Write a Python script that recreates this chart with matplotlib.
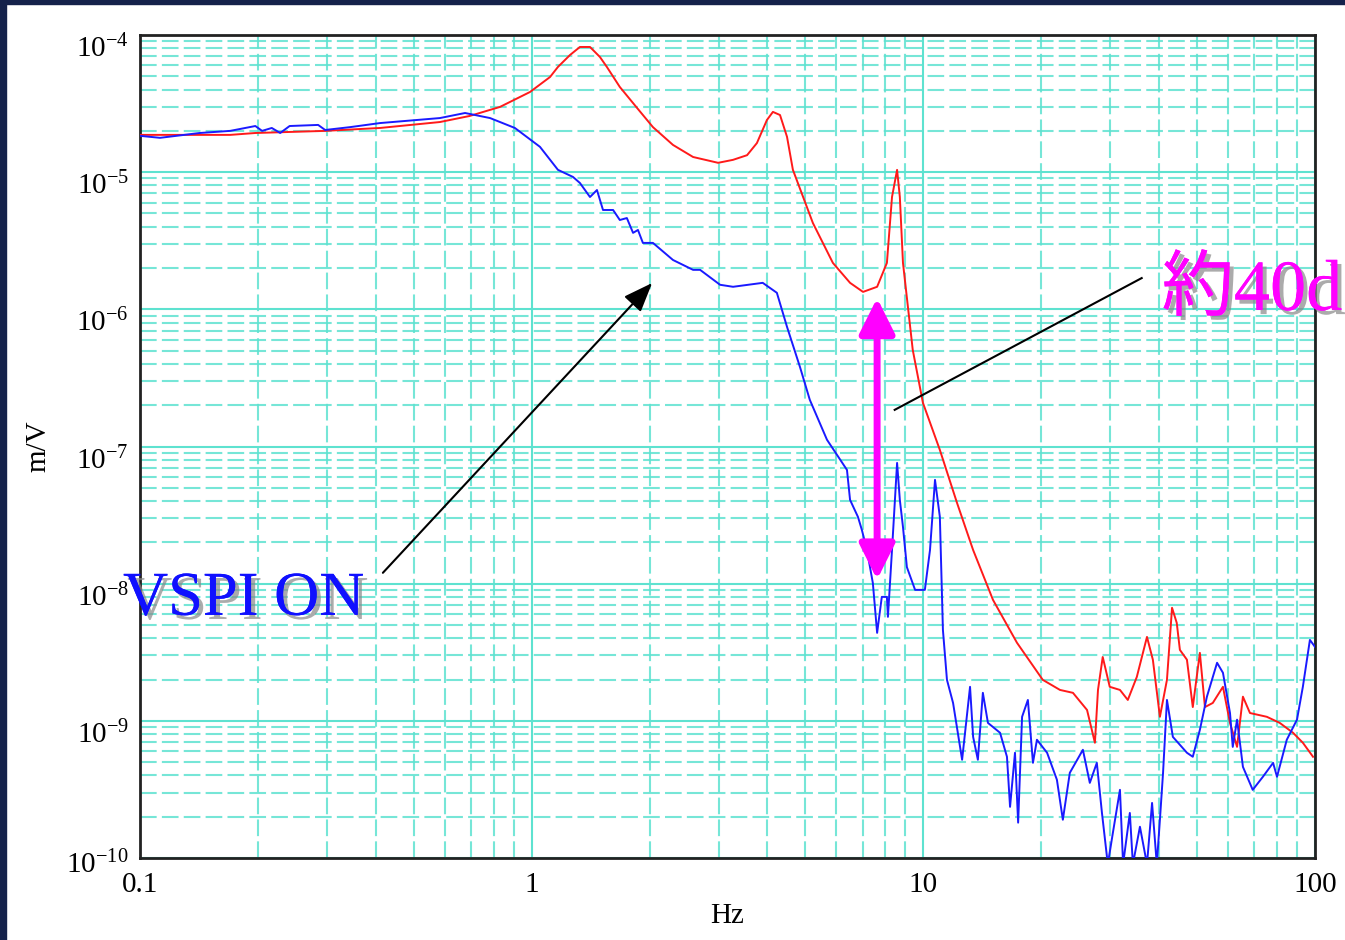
"""Transfer function plot (m/V vs Hz), VSPI on/off comparison."""

import matplotlib
matplotlib.use("Agg")
import matplotlib.pyplot as plt
import matplotlib.patheffects as pe
from matplotlib.patches import Rectangle, FancyArrowPatch
from matplotlib.ticker import FixedLocator, NullFormatter
from matplotlib.transforms import ScaledTranslation

plt.rcParams["font.family"] = ["Liberation Serif", "Noto Sans CJK JP", "DejaVu Sans"]
plt.rcParams["mathtext.fontset"] = "custom"
plt.rcParams["mathtext.rm"] = "Liberation Serif"

# VSPI OFF (red)
red_freq = [0.100, 0.170, 0.197, 0.297, 0.410, 0.583, 0.695, 0.830, 0.990, 1.114,
            1.167, 1.253, 1.328, 1.409, 1.494, 1.556, 1.679, 1.858, 2.040, 2.295,
            2.583, 2.992, 3.267, 3.548, 3.759, 3.987, 4.130, 4.306, 4.487, 4.645,
            5.224, 5.876, 6.500, 7.015, 7.621, 8.072, 8.318, 8.570, 8.710, 8.872,
            9.397, 9.977, 11.02, 12.19, 13.40, 15.06, 17.34, 20.18, 22.33, 24.10,
            26.18, 27.42, 27.92, 28.71, 29.92, 31.77, 33.27, 35.08, 37.24, 38.55,
            40.18, 41.88, 43.15, 44.36, 45.19, 47.10, 48.75, 50.82, 52.36, 54.83,
            58.21, 60.67, 63.24, 65.46, 68.23, 75.34, 81.28, 87.90, 93.11, 98.85]
red_vals = [1.87e-5, 1.87e-5, 1.93e-5, 2.00e-5, 2.10e-5, 2.32e-5, 2.57e-5, 2.99e-5, 3.84e-5, 4.94e-5,
            5.85e-5, 7.15e-5, 8.18e-5, 8.18e-5, 6.91e-5, 5.85e-5, 4.18e-5, 2.94e-5, 2.13e-5, 1.58e-5,
            1.29e-5, 1.17e-5, 1.23e-5, 1.33e-5, 1.63e-5, 2.40e-5, 2.75e-5, 2.61e-5, 1.81e-5, 1.04e-5,
            4.26e-6, 2.18e-6, 1.56e-6, 1.34e-6, 1.46e-6, 2.18e-6, 6.59e-6, 1.04e-5, 6.59e-6, 2.18e-6,
            5.06e-7, 2.08e-7, 9.44e-8, 3.88e-8, 1.76e-8, 7.62e-9, 3.71e-9, 1.99e-9, 1.68e-9, 1.60e-9,
            1.20e-9, 6.92e-10, 1.68e-9, 2.92e-9, 1.77e-9, 1.68e-9, 1.42e-9, 2.09e-9, 4.09e-9, 2.79e-9,
            1.07e-9, 1.99e-9, 6.67e-9, 5.18e-9, 3.29e-9, 2.79e-9, 1.26e-9, 3.13e-9, 1.26e-9, 1.35e-9,
            1.77e-9, 9.66e-10, 6.46e-10, 1.50e-9, 1.14e-9, 1.07e-9, 9.66e-10, 8.18e-10, 6.92e-10, 5.47e-10]

# VSPI ON (blue)
blue_freq = [0.100, 0.1125, 0.142, 0.170, 0.197, 0.205, 0.217, 0.228, 0.241, 0.285,
             0.297, 0.344, 0.410, 0.583, 0.676, 0.783, 0.906, 1.050, 1.167, 1.275,
             1.328, 1.409, 1.468, 1.521, 1.614, 1.679, 1.750, 1.815, 1.868, 1.923,
             2.040, 2.295, 2.583, 2.692, 3.027, 3.267, 3.890, 4.227, 4.487, 4.842,
             5.130, 5.675, 6.383, 6.500, 6.808, 6.966, 7.178, 7.432, 7.621, 7.834,
             8.072, 8.121, 8.318, 8.570, 8.710, 8.872, 9.078, 9.527, 10.09, 10.40,
             10.71, 11.02, 11.22, 11.49, 11.91, 12.56, 13.16, 13.40, 13.78, 14.19,
             14.62, 15.70, 16.35, 16.65, 17.14, 17.46, 17.87, 18.49, 19.05, 19.50,
             20.70, 21.93, 22.71, 23.66, 25.55, 26.61, 27.73, 28.58, 29.58, 30.48,
             31.77, 32.36, 33.67, 34.28, 35.73, 37.24, 38.37, 39.45, 40.18, 40.93,
             41.88, 43.36, 47.10, 48.75, 50.82, 52.97, 56.23, 58.21, 60.67, 61.66,
             63.24, 65.46, 69.34, 73.62, 78.16, 79.98, 84.72, 89.95, 93.11, 97.05,
             100.0]
blue_vals = [1.84e-5, 1.78e-5, 1.93e-5, 2.00e-5, 2.17e-5, 2.00e-5, 2.10e-5, 1.93e-5, 2.17e-5, 2.21e-5,
             2.03e-5, 2.13e-5, 2.28e-5, 2.48e-5, 2.70e-5, 2.48e-5, 2.10e-5, 1.53e-5, 1.04e-5, 9.23e-6,
             8.34e-6, 6.59e-6, 7.41e-6, 5.30e-6, 5.30e-6, 4.48e-6, 4.63e-6, 3.61e-6, 3.79e-6, 3.05e-6,
             3.05e-6, 2.29e-6, 1.94e-6, 1.94e-6, 1.51e-6, 1.46e-6, 1.56e-6, 1.32e-6, 7.45e-7, 3.80e-7,
             2.19e-7, 1.12e-7, 6.75e-8, 4.08e-8, 3.07e-8, 2.47e-8, 1.76e-8, 1.01e-8, 4.38e-9, 8.01e-9,
             8.01e-9, 5.73e-9, 1.76e-8, 7.59e-8, 4.08e-8, 2.59e-8, 1.32e-8, 9.01e-9, 9.01e-9, 1.76e-8,
             5.71e-8, 3.07e-8, 4.60e-9, 1.99e-9, 1.35e-9, 5.20e-10, 1.77e-9, 7.64e-10, 5.20e-10, 1.60e-9,
             9.66e-10, 8.18e-10, 5.47e-10, 2.36e-10, 5.85e-10, 1.81e-10, 1.07e-9, 1.42e-9, 4.94e-10, 7.28e-10,
             5.85e-10, 3.72e-10, 1.90e-10, 4.18e-10, 6.15e-10, 3.53e-10, 4.94e-10, 2.13e-10, 9.0e-11, 1.53e-10,
             3.14e-10, 9.0e-11, 2.13e-10, 9.0e-11, 1.69e-10, 9.0e-11, 2.52e-10, 9.0e-11, 1.90e-10, 4.18e-10,
             1.42e-9, 7.64e-10, 5.85e-10, 5.47e-10, 8.59e-10, 1.50e-9, 2.65e-9, 2.24e-9, 1.14e-9, 6.46e-10,
             1.02e-9, 4.62e-10, 3.14e-10, 3.91e-10, 4.94e-10, 3.91e-10, 7.28e-10, 1.02e-9, 1.77e-9, 3.89e-9,
             3.46e-9]

x_ticks = [0.1, 1, 10, 100]
x_tick_labels = ["0.1", "1", "10", "100"]
y_exponents = [-10, -9, -8, -7, -6, -5, -4]

GRID = "#5ee2d0"
NAVY = "#15224b"


def main() -> None:
    fig = plt.figure(figsize=(13.45, 9.4), dpi=100)
    fig.patches.append(Rectangle((0, 0), 6 / 1345, 1, transform=fig.transFigure,
                                 color=NAVY, zorder=0))
    fig.patches.append(Rectangle((0, 1 - 4 / 940), 1, 4 / 940, transform=fig.transFigure,
                                 color=NAVY, zorder=0))

    ax = fig.add_axes([140 / 1345, 82 / 940, 1175 / 1345, 823 / 940])
    ax.set_xscale("log")
    ax.set_yscale("log")
    ax.set_xlim(0.1, 100)
    ax.set_ylim(1e-10, 1e-4)

    ax.xaxis.set_major_locator(FixedLocator(x_ticks))
    ax.set_xticklabels(x_tick_labels)
    ax.xaxis.set_minor_locator(FixedLocator(
        [m * 10.0 ** e for e in (-1, 0, 1) for m in range(2, 10)]))
    y_major = [10.0 ** e for e in y_exponents]
    ax.yaxis.set_major_locator(FixedLocator(y_major))
    ax.set_yticklabels([r"$\mathregular{10^{%d}}$" % e for e in y_exponents])
    ax.yaxis.set_minor_locator(FixedLocator(
        [m * 10.0 ** e for e in range(-10, -4) for m in range(2, 10)]))
    ax.xaxis.set_minor_formatter(NullFormatter())
    ax.yaxis.set_minor_formatter(NullFormatter())

    ax.tick_params(which="both", length=0)
    ax.tick_params(axis="x", labelsize=21, pad=10)
    ax.tick_params(axis="y", labelsize=21, pad=8)

    # the y labels sit a little below their grid line in the original;
    # the bottom one less so, to stay clear of "0.1"
    for i, lab in enumerate(ax.get_yticklabels()):
        dy = -3 if i == 0 else -8
        lab.set_transform(lab.get_transform()
                          + ScaledTranslation(0, dy / 72, fig.dpi_scale_trans))

    ax.grid(True, which="major", color=GRID, lw=1.5, ls="-")
    ax.grid(True, which="minor", color=GRID, lw=1.5, ls=(0, (8, 2.5)), alpha=0.85)
    ax.set_axisbelow(True)

    for sp in ax.spines.values():
        sp.set_color("#222222")
        sp.set_linewidth(2)

    ax.plot(red_freq, red_vals, color="#ff1a1a", lw=1.4, zorder=3)
    ax.plot(blue_freq, blue_vals, color="#1a1aff", lw=1.4, zorder=3)

    ax.set_xlabel("Hz", fontsize=21)
    ax.set_ylabel("m/V", fontsize=21)
    ax.xaxis.set_label_coords(0.5, -0.055)
    ax.yaxis.set_label_coords(-0.075, 0.5)

    shadow = [pe.withSimplePatchShadow(offset=(3, -3), shadow_rgbFace="#888888", alpha=0.7),
              pe.Normal()]

    # VSPI ON label and arrow
    ax.annotate("", xy=(2.03, 1.555e-6), xytext=(0.417, 1.2e-8),
                arrowprops=dict(arrowstyle="-|>,head_length=0.9,head_width=0.35",
                                color="black", lw=1.5, mutation_scale=20,
                                shrinkA=0, shrinkB=0), zorder=5)
    ax.text(0.0905, 5.93e-9, "VSPI ON", color="#1010ff", fontsize=45,
            ha="left", va="baseline", path_effects=shadow, zorder=6)

    # ~40 dB difference
    ax.plot([8.45, 36.1], [1.85e-7, 1.69e-6], color="black", lw=1.5, zorder=5)
    ax.text(40.6, 9.9e-7, "約40d", color="#ff00ff", fontsize=52,
            ha="left", va="baseline", path_effects=shadow, zorder=6, clip_on=False)

    arrow = FancyArrowPatch((7.62, 1.07e-8), (7.62, 1.21e-6),
                            arrowstyle="<|-|>,head_length=0.9,head_width=0.45",
                            mutation_scale=24, color="#ff00ff", lw=5,
                            shrinkA=0, shrinkB=0, zorder=6)
    ax.add_patch(arrow)

    fig.savefig("out.png", dpi=100)


if __name__ == "__main__":
    main()
